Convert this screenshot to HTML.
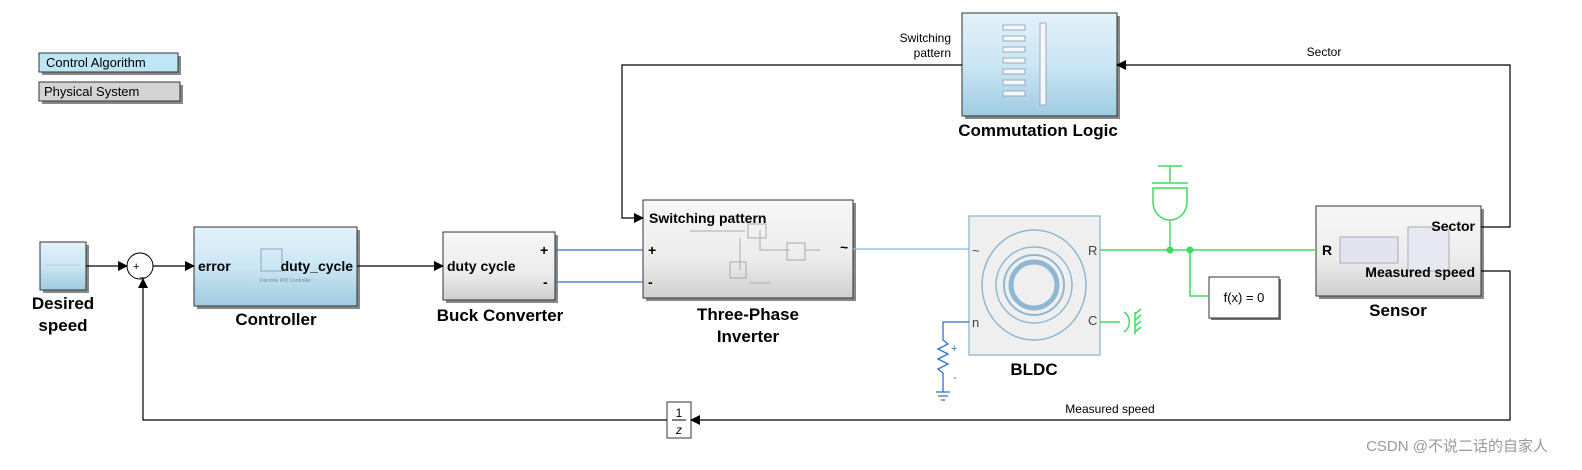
<!DOCTYPE html>
<html><head><meta charset="utf-8"><style>html,body{margin:0;padding:0;background:#fff;overflow:hidden;width:1582px;height:470px}svg{display:block}text{font-family:"Liberation Sans",Arial,sans-serif}</style></head><body>
<svg width="1582" height="470" viewBox="0 0 1582 470" xmlns="http://www.w3.org/2000/svg">
<defs>
<linearGradient id="gb" x1="0" y1="0" x2="0" y2="1"><stop offset="0" stop-color="#e2f2fb"/><stop offset="0.5" stop-color="#cbe6f4"/><stop offset="1" stop-color="#9fcbe2"/></linearGradient>
<linearGradient id="gg" x1="0" y1="0" x2="0" y2="1"><stop offset="0" stop-color="#f7f7f7"/><stop offset="0.6" stop-color="#ececec"/><stop offset="1" stop-color="#cfcfcf"/></linearGradient>
<marker id="ar" markerWidth="10" markerHeight="10" refX="9" refY="5" orient="auto" markerUnits="userSpaceOnUse"><path d="M0,0 L10,5 L0,10 Z" fill="#000"/></marker>
</defs>
<rect x="42" y="56" width="139" height="19" fill="#888"/>
<rect x="39" y="53" width="139" height="19" fill="#bfe6f7" stroke="#333" stroke-width="1"/>
<text x="46" y="67" font-size="13">Control Algorithm</text>
<rect x="42" y="85" width="141" height="19" fill="#888"/>
<rect x="39" y="82" width="141" height="19" fill="#d4d4d4" stroke="#333" stroke-width="1"/>
<text x="44" y="96" font-size="13">Physical System</text>

<rect x="43" y="245" width="46" height="48" fill="#888"/>
<rect x="40" y="242" width="46" height="48" fill="url(#gb)" stroke="#333"/>
<line x1="46" y1="265" x2="80" y2="265" stroke="#bcd" />
<text x="63" y="309" font-size="17" font-weight="bold" text-anchor="middle">Desired</text>
<text x="63" y="331" font-size="17" font-weight="bold" text-anchor="middle">speed</text>

<circle cx="140" cy="266" r="13" fill="#fff" stroke="#000"/>
<text x="133" y="270" font-size="11">+</text><text x="140" y="276" font-size="11">_</text>

<rect x="197" y="230" width="163" height="79" fill="#888"/>
<rect x="194" y="227" width="163" height="79" fill="url(#gb)" stroke="#333"/>
<rect x="261" y="249" width="21" height="22" fill="none" stroke="#8ab"/>
<text x="198" y="271" font-size="14" font-weight="bold">error</text>
<text x="353" y="271" font-size="14" font-weight="bold" text-anchor="end">duty_cycle</text>
<text x="260" y="282" font-size="5" fill="#789">Discrete PID Controller</text>
<text x="276" y="325" font-size="17" font-weight="bold" text-anchor="middle">Controller</text>

<rect x="446" y="235" width="112" height="68" fill="#888"/>
<rect x="443" y="232" width="112" height="68" fill="url(#gg)" stroke="#333"/>
<text x="447" y="271" font-size="14" font-weight="bold">duty cycle</text>
<text x="540" y="255" font-size="14" font-weight="bold">+</text>
<text x="543" y="287" font-size="14" font-weight="bold">-</text>
<text x="500" y="321" font-size="17" font-weight="bold" text-anchor="middle">Buck Converter</text>

<rect x="646" y="203" width="210" height="98" fill="#888"/>
<rect x="643" y="200" width="210" height="98" fill="url(#gg)" stroke="#333"/>
<g fill="none" stroke="#aaa"><rect x="748" y="224" width="18" height="14"/><rect x="730" y="262" width="16" height="16"/><rect x="787" y="243" width="18" height="17"/><path d="M690 231H745M740 238V270M760 230V250H790M805 250H820M750 283H770"/></g>
<text x="649" y="223" font-size="14" font-weight="bold">Switching pattern</text>
<text x="648" y="255" font-size="14" font-weight="bold">+</text>
<text x="648" y="287" font-size="14" font-weight="bold">-</text>
<text x="840" y="252" font-size="14" font-weight="bold">~</text>
<text x="748" y="320" font-size="17" font-weight="bold" text-anchor="middle">Three-Phase</text>
<text x="748" y="342" font-size="17" font-weight="bold" text-anchor="middle">Inverter</text>

<rect x="965" y="16" width="155" height="103" fill="#888"/>
<rect x="962" y="13" width="155" height="103" fill="url(#gb)" stroke="#333"/>
<g fill="#f4f8fb" stroke="#9ab"><rect x="1040" y="23" width="6" height="82"/><rect x="1003" y="25" width="22" height="5"/><rect x="1003" y="36" width="22" height="5"/><rect x="1003" y="47" width="22" height="5"/><rect x="1003" y="58" width="22" height="5"/><rect x="1003" y="69" width="22" height="5"/><rect x="1003" y="80" width="22" height="5"/><rect x="1003" y="91" width="22" height="5"/></g>
<text x="1038" y="136" font-size="17" font-weight="bold" text-anchor="middle">Commutation Logic</text>

<rect x="969" y="216" width="131" height="139" fill="#efefef" stroke="#9cc0d8" stroke-width="1.5"/>
<g fill="none" stroke="#8fb7d3" stroke-width="1.5"><ellipse cx="1034" cy="285" rx="52" ry="55"/><circle cx="1034" cy="285" r="38"/><circle cx="1034" cy="285" r="30" stroke-width="2"/><circle cx="1034" cy="285" r="23" stroke-width="5"/></g>
<text x="972" y="255" font-size="13" fill="#444">~</text>
<text x="1088" y="255" font-size="13" fill="#444">R</text>
<text x="972" y="327" font-size="13" fill="#444">n</text>
<text x="1088" y="325" font-size="13" fill="#444">C</text>
<text x="1034" y="375" font-size="17" font-weight="bold" text-anchor="middle">BLDC</text>

<rect x="1319" y="209" width="165" height="90" fill="#888"/>
<rect x="1316" y="206" width="165" height="90" fill="url(#gg)" stroke="#333"/>
<rect x="1340" y="237" width="58" height="26" fill="#e3e3ef" stroke="#aab"/>
<rect x="1408" y="227" width="41" height="44" fill="#e8e8f2" stroke="#aab"/>
<text x="1322" y="255" font-size="14" font-weight="bold">R</text>
<text x="1475" y="231" font-size="14" font-weight="bold" text-anchor="end">Sector</text>
<text x="1475" y="277" font-size="14" font-weight="bold" text-anchor="end">Measured speed</text>
<text x="1398" y="316" font-size="17" font-weight="bold" text-anchor="middle">Sensor</text>

<rect x="1211" y="279" width="70" height="41" fill="#777"/>
<rect x="1209" y="277" width="70" height="41" fill="#fff" stroke="#333"/>
<text x="1244" y="302" font-size="13" text-anchor="middle">f(x) = 0</text>

<rect x="667" y="402" width="24" height="36" fill="#fff" stroke="#333"/>
<text x="679" y="417" font-size="12" font-family="Liberation Serif" text-anchor="middle">1</text>
<line x1="672" y1="420" x2="686" y2="420" stroke="#000"/>
<text x="679" y="434" font-size="12" font-family="Liberation Serif" font-style="italic" text-anchor="middle">z</text>

<g stroke="#000" stroke-width="1.2" fill="none">
<path d="M86 266H127" marker-end="url(#ar)"/>
<path d="M153 266H194" marker-end="url(#ar)"/>
<path d="M357 266H443" marker-end="url(#ar)"/>
<path d="M962 65H622V218H643" marker-end="url(#ar)"/>
<path d="M1481 227H1510V65H1117" marker-end="url(#ar)"/>
<path d="M1481 271H1510V420H691" marker-end="url(#ar)"/>
<path d="M667 420H143V279" marker-end="url(#ar)"/>
</g>
<text x="951" y="42" font-size="12" text-anchor="end">Switching</text>
<text x="951" y="57" font-size="12" text-anchor="end">pattern</text>
<text x="1324" y="56" font-size="12" text-anchor="middle">Sector</text>
<text x="1110" y="413" font-size="12" text-anchor="middle">Measured speed</text>

<g stroke="#2f6fd0" stroke-width="1.3" fill="none">
<path d="M555 250H643M555 282H643"/>
<path d="M969 322H943V340l5 4-10 5 10 5-10 5 10 5-10 5 5 4V392"/>
<path d="M936 392H950M938 396H948M941 400H945"/>
</g>
<text x="951" y="352" font-size="11" fill="#2f6fd0">+</text>
<text x="953" y="381" font-size="11" fill="#2f6fd0">-</text>
<path d="M853 249H969" stroke="#8ab6dc" stroke-width="1.3"/>
<g stroke="#3ddc60" stroke-width="1.5" fill="none">
<path d="M1100 250H1316"/>
<path d="M1170 250V220"/>
<path d="M1158 166H1182M1170 166V183M1152 183H1188M1153 188V202A17 18 0 0 0 1187 202V188Z"/>
<path d="M1190 250V296H1209"/>
<path d="M1100 322H1120"/>
<path d="M1135 312V334M1135 314l6-5M1135 320l6-5M1135 326l6-5M1135 332l6-5"/>
<path d="M1124 312A12 12 0 0 1 1124 332"/>
</g>
<circle cx="1170" cy="250" r="3.5" fill="#3ddc60"/>
<circle cx="1190" cy="250" r="3.5" fill="#3ddc60"/>

<text x="1548" y="451" font-size="15" fill="#999" text-anchor="end" style="font-family:'Liberation Sans','Noto Sans CJK SC',sans-serif">CSDN @不说二话的自家人</text>
</svg>
</body></html>
